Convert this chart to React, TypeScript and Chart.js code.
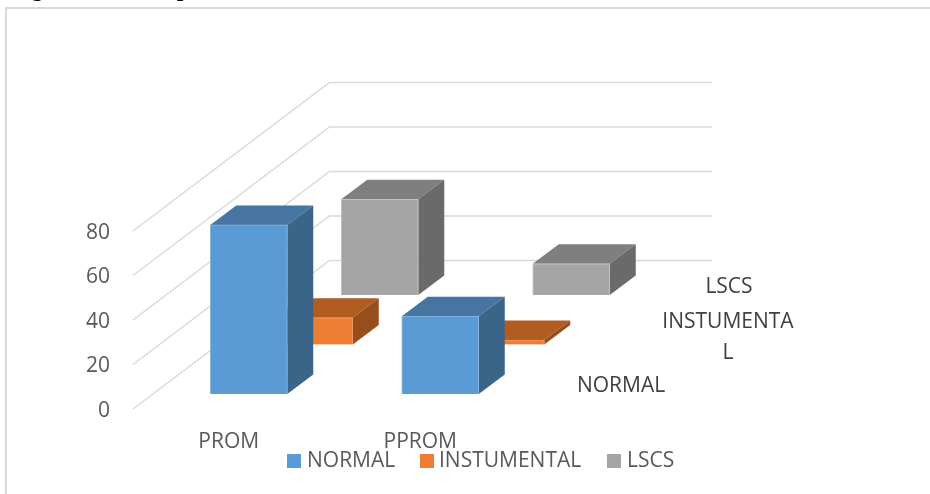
import { useEffect, useRef } from "react";
import { Chart, registerables } from "chart.js";

Chart.register(...registerables);

const categories = ["PROM", "PPROM"];
const seriesNames = ["NORMAL", "INSTUMENTAL", "LSCS"];
const normalValues = [76, 35];
const instrumentalValues = [12, 2];
const lscsValues = [43, 14];

const frontColors = ["#5B9BD5", "#ED7D31", "#A5A5A5"];
const edgeColors = ["#8DB9E2", "#F39A5E", "#C2C2C2"];
const topColors = ["#4675A1", "#B15D22", "#7F7F7F"];
const sideColors = ["#3A6488", "#964F1C", "#6A6A6A"];

const FONT = '"Open Sans", sans-serif';
const FONT_SIZE = 21;
const TICK_COLOR = "#595959";
const DEPTH_TEXT_COLOR = "#404040";
const GRID_COLOR = "#D9D9D9";

// Oblique projection of the series axis.
const SLOT_DX = 65.5;
const SLOT_DY = 49.5;
const INSET_DX = 20;
const INSET_DY = 15;
const BAR_DEPTH_DX = 26;
const BAR_DEPTH_DY = 19.5;
const WALL_RIGHT = 712;

const depthLabels = [
  { lines: ["NORMAL"], x: 621, y: 386 },
  { lines: ["INSTUMENTA", "L"], x: 728, y: 322 },
  { lines: ["LSCS"], x: 729, y: 287 },
];
const legendSlots = [
  { box: 287, text: 307 },
  { box: 420, text: 439 },
  { box: 607, text: 627 },
];

const slotOffset = (i: number) => ({
  dx: INSET_DX + SLOT_DX * i,
  dy: INSET_DY + SLOT_DY * i,
});

const fillPolygon = (ctx: CanvasRenderingContext2D, pts: number[][], color: string) => {
  ctx.beginPath();
  pts.forEach(([x, y], k) => (k ? ctx.lineTo(x, y) : ctx.moveTo(x, y)));
  ctx.closePath();
  ctx.fillStyle = color;
  ctx.fill();
};

// Floor-to-back-wall gridlines, one per value tick.
const wallGrid = {
  id: "wallGrid",
  beforeDatasetsDraw(chart: any) {
    const { ctx, scales } = chart;
    const left = scales.x.left;
    const dx = SLOT_DX * 3;
    const dy = SLOT_DY * 3;
    ctx.save();
    ctx.strokeStyle = GRID_COLOR;
    ctx.lineWidth = 1.5;
    for (const tick of scales.y.ticks) {
      const y = scales.y.getPixelForValue(tick.value);
      ctx.beginPath();
      ctx.moveTo(left, y);
      ctx.lineTo(left + dx, y - dy);
      ctx.lineTo(WALL_RIGHT, y - dy);
      ctx.stroke();
    }
    ctx.restore();
  },
};

// Shifts each series back along the depth axis and adds the box faces behind its bars.
const boxFaces = {
  id: "boxFaces",
  beforeDatasetDraw(chart: any, args: any) {
    const { ctx } = chart;
    const i = args.index;
    const { dx, dy } = slotOffset(i);
    ctx.save();
    ctx.translate(dx, -dy);
    for (const bar of args.meta.data) {
      const { x, y, base, width } = bar.getProps(["x", "y", "base", "width"], true);
      const l = x - width / 2;
      const r = x + width / 2;
      fillPolygon(ctx, [[l, y], [r, y], [r + BAR_DEPTH_DX, y - BAR_DEPTH_DY], [l + BAR_DEPTH_DX, y - BAR_DEPTH_DY]], topColors[i]);
      fillPolygon(ctx, [[r, y], [r + BAR_DEPTH_DX, y - BAR_DEPTH_DY], [r + BAR_DEPTH_DX, base - BAR_DEPTH_DY], [r, base]], sideColors[i]);
    }
  },
  afterDatasetDraw(chart: any) {
    chart.ctx.restore();
  },
};

// Frame, clipped heading, series-axis captions and the legend row.
const annotations = {
  id: "annotations",
  afterDraw(chart: any) {
    const { ctx } = chart;
    ctx.save();
    ctx.fillStyle = GRID_COLOR;
    ctx.fillRect(5, 7, 925, 2);
    ctx.fillRect(5, 7, 2, 487);

    ctx.fillStyle = "#000000";
    ctx.font = 'bold 24px "Liberation Serif", serif';
    ctx.textAlign = "left";
    ctx.textBaseline = "alphabetic";
    ctx.fillText("Figure 12 : Comparison", 10, -4);

    ctx.font = `${FONT_SIZE}px ${FONT}`;
    ctx.textBaseline = "middle";
    ctx.textAlign = "center";
    ctx.fillStyle = DEPTH_TEXT_COLOR;
    depthLabels.forEach((d) => {
      d.lines.forEach((line, k) => ctx.fillText(line, d.x, d.y + k * 31));
    });

    ctx.textAlign = "left";
    chart.data.datasets.forEach((ds: any, i: number) => {
      ctx.fillStyle = frontColors[i];
      ctx.fillRect(legendSlots[i].box, 454, 14, 14);
      ctx.fillStyle = TICK_COLOR;
      ctx.fillText(ds.label, legendSlots[i].text, 461);
    });
    ctx.restore();
  },
};

export default function App() {
  const ref = useRef<HTMLCanvasElement>(null);

  useEffect(() => {
    if (!ref.current) return;
    const seriesValues = [normalValues, instrumentalValues, lscsValues];
    const chart = new Chart(ref.current, {
      type: "bar",
      data: {
        labels: categories,
        datasets: seriesNames.map((label, i) => ({
          label,
          data: seriesValues[i],
          backgroundColor: frontColors[i],
          borderColor: edgeColors[i],
          borderWidth: 1,
          barThickness: 77,
          grouped: false,
          clip: false,
        })),
      },
      options: {
        animation: false,
        responsive: false,
        layout: { padding: { top: 231, right: 414, left: 0, bottom: 0 } },
        plugins: {
          legend: { display: false },
          title: { display: false },
          tooltip: { enabled: false },
        },
        scales: {
          x: {
            grid: { display: false },
            border: { display: false },
            afterFit: (s: any) => { s.height = 85; },
            ticks: {
              color: TICK_COLOR,
              font: { family: FONT, size: FONT_SIZE },
              padding: 12,
              maxRotation: 0,
              autoSkip: false,
            },
          },
          y: {
            min: 0,
            max: 80,
            grid: { display: false },
            border: { display: false },
            afterFit: (s: any) => { s.width = 133; },
            ticks: {
              stepSize: 20,
              color: TICK_COLOR,
              font: { family: FONT, size: FONT_SIZE },
              padding: 15,
              labelOffset: 2,
            },
          },
        },
      },
      plugins: [wallGrid, boxFaces, annotations],
    } as any);
    return () => chart.destroy();
  }, []);

  return (
    <div style={{ position: "fixed", left: 0, top: 0, width: 930, height: 494, background: "#fff" }}>
      <canvas ref={ref} width={930} height={494} style={{ display: "block" }} />
    </div>
  );
}
